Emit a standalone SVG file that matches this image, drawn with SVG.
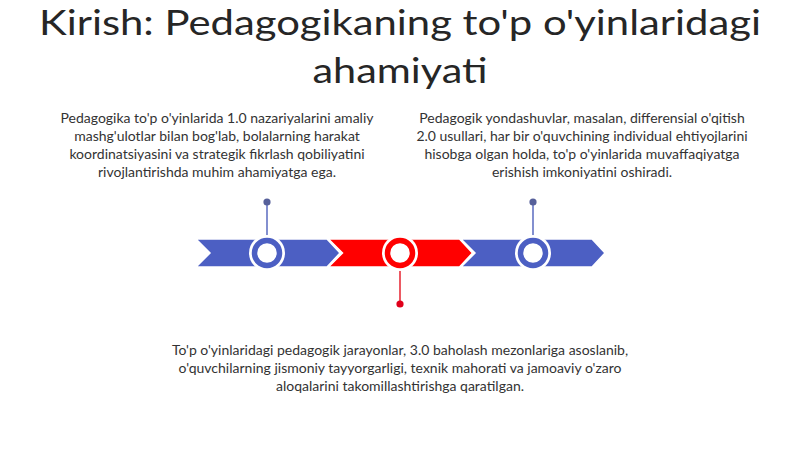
<svg xmlns="http://www.w3.org/2000/svg" width="800" height="449" viewBox="0 0 800 449">
<style>
.title{font-family:Lato,"Open Sans",sans-serif;font-size:34px;fill:#262626;text-anchor:middle}
.body{font-family:Lato,"Open Sans",sans-serif;font-size:14px;fill:#333;text-anchor:middle}
.blue{fill:#4c5fc3}
.red{fill:#ff0000}
.chev{stroke:#fff;stroke-width:1.5}
</style>
<defs>
<path id="chev" d="M0,0 L131,0 L144,14 L131,28 L0,28 L14,14 Z"/>
</defs>
<rect width="800" height="449" fill="#fff"/>
<g id="title">
<text class="title" x="400" y="35" textLength="722" lengthAdjust="spacingAndGlyphs">Kirish: Pedagogikaning to'p o'yinlaridagi</text>
<text class="title" x="400" y="83" textLength="175" lengthAdjust="spacingAndGlyphs">ahamiyati</text>
</g>
<g id="timeline">
<use href="#chev" x="196" y="239" class="blue chev"/>
<use href="#chev" x="328.5" y="239" class="red chev"/>
<use href="#chev" x="461" y="239" class="blue chev"/>
</g>
<g id="connectors">
<line x1="267" y1="202" x2="267" y2="238" stroke="#6474c4" stroke-width="1.6"/>
<circle cx="267" cy="202" r="3.6" fill="#56609a"/>
<line x1="533" y1="202" x2="533" y2="238" stroke="#6474c4" stroke-width="1.6"/>
<circle cx="533" cy="202" r="3.6" fill="#56609a"/>
<line x1="400" y1="268" x2="400" y2="304" stroke="#e8303c" stroke-width="1.6"/>
<circle cx="400" cy="304" r="3.6" fill="#e0001a"/>
</g>
<g id="node1">
<circle cx="267" cy="253" r="18" fill="#fff"/>
<circle cx="267" cy="253" r="12.5" fill="#fff" stroke="#4c5fc3" stroke-width="5.5"/>
<text class="body" x="217" y="123">Pedagogika to'p o'yinlarida 1.0 nazariyalarini amaliy</text>
<text class="body" x="217" y="141">mashg'ulotlar bilan bog'lab, bolalarning harakat</text>
<text class="body" x="217" y="159">koordinatsiyasini va strategik fikrlash qobiliyatini</text>
<text class="body" x="217" y="177">rivojlantirishda muhim ahamiyatga ega.</text>
</g>
<g id="node2">
<circle cx="400" cy="253" r="18" fill="#fff"/>
<circle cx="400" cy="253" r="12.5" fill="#fff" stroke="#ff0000" stroke-width="5.5"/>
<text class="body" x="400" y="355">To'p o'yinlaridagi pedagogik jarayonlar, 3.0 baholash mezonlariga asoslanib,</text>
<text class="body" x="400" y="373">o'quvchilarning jismoniy tayyorgarligi, texnik mahorati va jamoaviy o'zaro</text>
<text class="body" x="400" y="391">aloqalarini takomillashtirishga qaratilgan.</text>
</g>
<g id="node3">
<circle cx="533" cy="253" r="18" fill="#fff"/>
<circle cx="533" cy="253" r="12.5" fill="#fff" stroke="#4c5fc3" stroke-width="5.5"/>
<text class="body" x="582" y="123">Pedagogik yondashuvlar, masalan, differensial o'qitish</text>
<text class="body" x="582" y="141">2.0 usullari, har bir o'quvchining individual ehtiyojlarini</text>
<text class="body" x="582" y="159">hisobga olgan holda, to'p o'yinlarida muvaffaqiyatga</text>
<text class="body" x="582" y="177">erishish imkoniyatini oshiradi.</text>
</g>
</svg>
